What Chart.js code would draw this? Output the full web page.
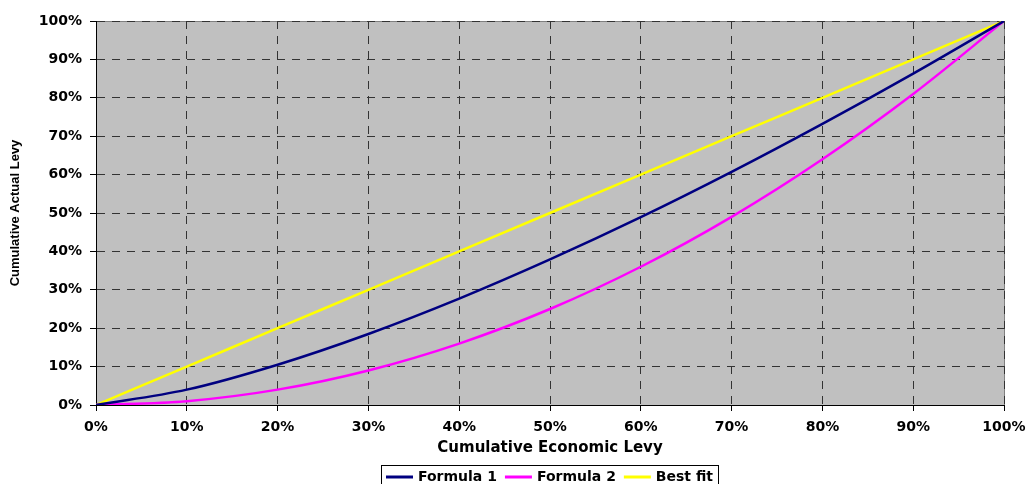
<!DOCTYPE html>
<html>
<head>
<meta charset="utf-8">
<script src="https://cdn.jsdelivr.net/npm/chart.js@4.4.1/dist/chart.umd.min.js"></script>
<style>
  html, body { margin: 0; padding: 0; background: #fff; }
  #wrap { width: 1030px; height: 484px; }
</style>
</head>
<body>
<div id="wrap"><canvas id="c" width="1030" height="484"></canvas></div>
<script>
// Cumulative economic levy (x, %) against cumulative actual levy (y, %)
const economicLevy = [0, 10, 20, 30, 40, 50, 60, 70, 80, 90, 100];
const formula1 = [0, 4, 10.5, 18.5, 27.7, 37.9, 48.9, 60.7, 73.2, 86.3, 100];
const formula2 = [0, 1, 4, 9, 16, 25, 36, 49, 64, 81, 100];
const bestFit = [0, 10, 20, 30, 40, 50, 60, 70, 80, 90, 100];
const seriesNames = ['Formula 1', 'Formula 2', 'Best fit'];
const seriesColors = ['#000080', '#FF00FF', '#FFFF00'];
const axisTitles = { x: 'Cumulative Economic Levy', y: 'Cumulative Actual Levy' };

const tickFont = { family: 'DejaVu Sans', size: 14, weight: 'bold' };
const legendFont = 'bold 14px "DejaVu Sans"';

function toPoints(ys) {
  return economicLevy.map((x, i) => ({ x: x, y: ys[i] }));
}

// Gray plot area with a thin gray frame
const plotBackground = {
  id: 'plotBackground',
  beforeDraw(chart) {
    const { ctx, chartArea: a } = chart;
    ctx.save();
    ctx.fillStyle = '#C0C0C0';
    ctx.fillRect(a.left, a.top, a.right - a.left, a.bottom - a.top);
    ctx.strokeStyle = '#808080';
    ctx.lineWidth = 1;
    ctx.strokeRect(Math.round(a.left) + 0.5, Math.round(a.top) + 0.5,
                   Math.round(a.right - a.left), Math.round(a.bottom - a.top));
    ctx.restore();
  }
};

// Boxed legend centred under the plot area
const boxedLegend = {
  id: 'boxedLegend',
  afterDraw(chart) {
    const { ctx, chartArea: a } = chart;
    const sets = chart.data.datasets;
    const lineLen = 27, padL = 5, gapLine = 5, gapItem = 8, padR = 5;
    ctx.save();
    ctx.font = legendFont;
    const widths = sets.map(d => ctx.measureText(d.label).width);
    let total = padL + padR;
    widths.forEach((w, i) => { total += lineLen + gapLine + w + (i < widths.length - 1 ? gapItem : 0); });
    const cx = (a.left + a.right) / 2;
    const left = Math.round(cx - total / 2);
    const top = 465, midY = 477;
    ctx.strokeStyle = '#000';
    ctx.lineWidth = 1;
    ctx.strokeRect(left + 0.5, top + 0.5, Math.round(total), 30);
    let x = left + padL;
    sets.forEach((d, i) => {
      ctx.strokeStyle = d.borderColor;
      ctx.lineWidth = 3;
      ctx.beginPath();
      ctx.moveTo(x, midY);
      ctx.lineTo(x + lineLen, midY);
      ctx.stroke();
      x += lineLen + gapLine;
      ctx.fillStyle = '#000';
      ctx.textBaseline = 'middle';
      ctx.textAlign = 'left';
      ctx.fillText(d.label, x, midY);
      x += widths[i] + gapItem;
    });
    ctx.restore();
  }
};

const seriesValues = [formula1, formula2, bestFit];

new Chart(document.getElementById('c'), {
  type: 'line',
  data: {
    datasets: seriesValues.map((vals, i) => ({
      label: seriesNames[i],
      data: toPoints(vals),
      borderColor: seriesColors[i],
      backgroundColor: seriesColors[i],
      borderWidth: 2.5,
      pointRadius: 0,
      fill: false,
      cubicInterpolationMode: 'monotone'
    }))
  },
  options: {
    responsive: false,
    animation: false,
    devicePixelRatio: 1,
    layout: { padding: { left: 0, right: 26, top: 21, bottom: 27 } },
    plugins: { legend: { display: false }, tooltip: { enabled: false } },
    scales: {
      x: {
        type: 'linear',
        min: 0, max: 100,
        ticks: {
          stepSize: 10,
          color: '#000',
          font: tickFont,
          padding: 8,
          maxRotation: 0,
          callback: v => v + '%'
        },
        grid: { color: '#333', tickColor: '#000', tickLength: 6, lineWidth: 1 },
        border: { display: true, color: '#000', width: 1, dash: [8, 7] },
        title: {
          display: true,
          text: axisTitles.x,
          color: '#000',
          font: { family: 'DejaVu Sans', size: 15, weight: 'bold', lineHeight: 1.2 },
          padding: { top: 0, bottom: 0 }
        },
        afterFit(scale) {
          scale.height = 52;
          scale.paddingLeft = 0;
          scale.paddingRight = 0;
        }
      },
      y: {
        type: 'linear',
        min: 0, max: 100,
        ticks: {
          stepSize: 10,
          color: '#000',
          font: tickFont,
          padding: 8,
          callback: v => v + '%'
        },
        grid: { color: '#333', tickColor: '#000', tickLength: 6, lineWidth: 1 },
        border: { display: true, color: '#000', width: 1, dash: [8, 7] },
        title: {
          display: true,
          text: axisTitles.y,
          color: '#000',
          font: { family: 'Liberation Sans', size: 13, weight: 'bold', lineHeight: 1.2 },
          padding: { top: 8, bottom: 0 }
        },
        afterFit(scale) {
          scale.width = 96;
          scale.paddingTop = 0;
          scale.paddingBottom = 0;
        }
      }
    }
  },
  plugins: [plotBackground, boxedLegend]
});
</script>
</body>
</html>
